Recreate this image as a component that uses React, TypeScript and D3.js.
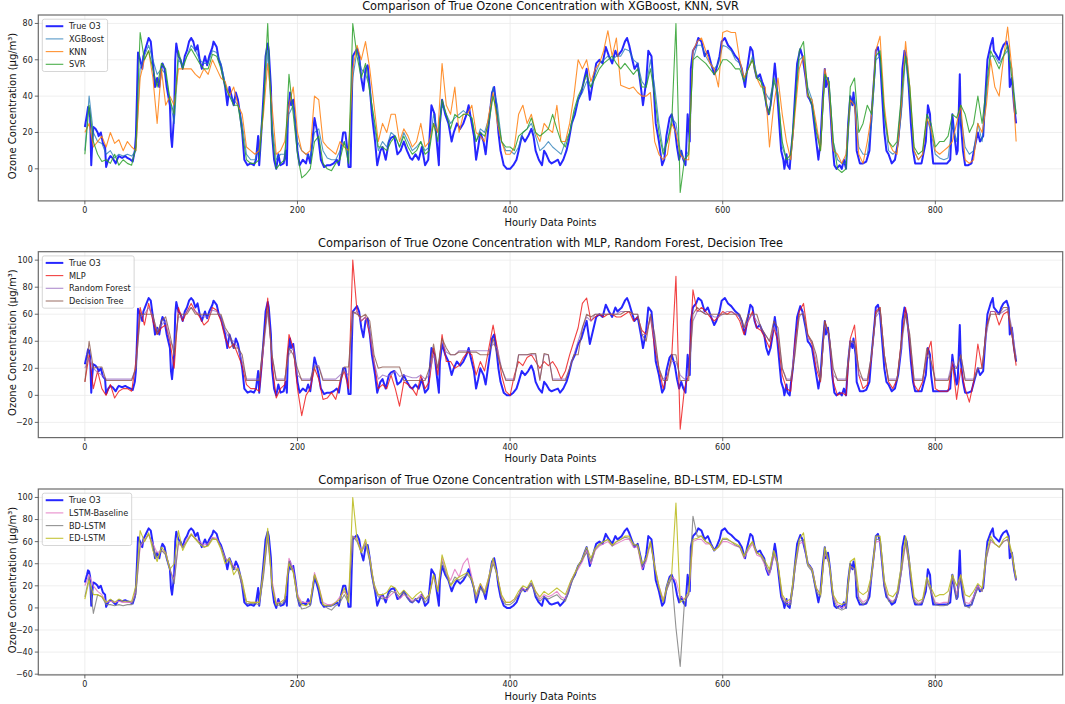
import React from "react";
import * as d3 from "d3";

// ---------- DATA ----------
// True O3 readings: [hour, value]
const TRUE_O3: [number, number][] = [
  [0,23],[2,30],[3,34],[4,33],[5,28],[6,2],[7,15],[8,23],[10,22],[12,20],[13,18],[15,20],[17,14],[19,12],[20,1],[22,5],[24,7],[26,6],[28,4],[29,3],
  [31,6],[32,7],[35,6],[38,7],[40,6],[43,5],[45,4],[47,10],[48,18],[49,40],[50,64],[52,60],[54,55],[55,62],[58,68],[60,72],[62,70],[64,58],[66,45],[68,50],
  [70,45],[72,55],[73,58],[75,55],[77,45],[80,35],[81,18],[82,12],[84,30],[85,60],[86,69],[88,62],[90,60],[92,55],[94,62],[96,65],[98,70],[100,72],[102,70],[104,65],
  [106,68],[108,60],[110,55],[113,62],[115,57],[117,62],[120,67],[121,70],[124,67],[126,60],[128,57],[129,54],[132,45],[134,35],[136,45],[138,40],[140,35],[142,42],[144,38],[146,30],
  [148,20],[150,5],[153,2],[156,3],[159,2],[161,5],[163,18],[164,2],[166,20],[168,40],[170,62],[172,69],[173,65],[175,45],[176,20],[178,5],[180,0],[182,8],[184,2],[187,3],
  [189,10],[190,2],[191,30],[193,42],[194,35],[196,38],[198,25],[200,10],[202,2],[205,5],[208,3],[210,8],[212,3],[214,15],[216,28],[218,22],[220,15],[222,5],[225,1],[228,2],
  [231,2],[234,3],[237,5],[239,2],[241,12],[243,20],[245,20],[247,10],[248,1],[250,1],[251,35],[252,62],[254,64],[256,66],[258,62],[260,50],[262,43],[264,55],[266,57],[268,45],
  [270,30],[273,15],[275,2],[278,10],[280,12],[283,5],[286,15],[288,17],[291,18],[294,8],[297,10],[300,15],[303,10],[306,6],[308,5],[311,8],[314,5],[317,12],[320,2],[323,5],
  [326,35],[329,30],[331,15],[333,2],[334,25],[336,38],[339,30],[342,25],[345,15],[347,20],[350,25],[353,22],[356,25],[359,30],[361,35],[363,28],[366,18],[368,5],[370,12],[372,20],
  [375,15],[377,8],[380,25],[383,42],[385,45],[387,35],[389,20],[391,10],[394,2],[397,0],[400,0],[403,2],[406,5],[408,10],[411,18],[414,15],[417,18],[420,22],[422,18],[424,10],
  [427,5],[430,2],[432,10],[434,8],[437,4],[439,3],[442,4],[445,5],[447,2],[450,5],[453,10],[455,15],[458,25],[461,30],[464,38],[467,42],[470,50],[472,55],[475,38],[478,48],
  [481,58],[484,60],[487,58],[490,67],[493,62],[496,58],[499,65],[501,62],[505,65],[508,70],[510,72],[512,68],[515,60],[517,55],[520,58],[523,45],[525,35],[528,48],[530,65],[533,62],
  [535,45],[537,25],[540,15],[543,2],[545,5],[547,18],[550,28],[552,30],[555,22],[557,12],[559,5],[561,10],[563,5],[565,2],[567,30],[569,15],[570,55],[572,65],[575,68],[577,72],
  [580,70],[583,62],[586,65],[589,58],[592,52],[594,55],[597,62],[599,70],[602,72],[605,68],[608,66],[612,62],[615,60],[618,55],[620,48],[621,45],[623,55],[626,67],[628,65],[630,55],
  [632,50],[635,52],[637,48],[639,45],[641,35],[643,30],[645,35],[647,45],[649,58],[650,52],[652,35],[654,18],[655,10],[657,5],[658,0],[660,8],[661,2],[663,0],[664,8],[666,20],
  [668,40],[670,58],[673,66],[675,62],[678,50],[680,40],[682,38],[684,35],[686,25],[688,15],[690,5],[692,15],[694,38],[696,55],[697,45],[699,50],[701,35],[703,15],[705,2],[707,0],
  [710,2],[712,0],[714,5],[716,0],[718,25],[720,40],[722,35],[723,42],[725,30],[726,10],[729,3],[732,3],[735,4],[738,10],[740,30],[743,55],[744,65],[746,67],[748,60],[750,40],
  [752,20],[754,10],[756,8],[759,3],[762,5],[765,15],[768,35],[769,55],[771,65],[773,60],[775,45],[777,25],[779,10],[781,3],[784,3],[787,3],[791,15],[793,35],[795,30],[796,15],
  [798,3],[802,3],[806,3],[811,3],[814,5],[816,30],[818,18],[820,8],[821,10],[823,52],[824,25],[826,10],[828,2],[831,2],[834,3],[837,12],[840,20],[842,15],[845,18],[847,40],
  [849,60],[852,68],[854,72],[855,65],[857,63],[860,60],[862,65],[864,68],[867,70],[869,65],[870,45],[872,50],[874,35],[876,25],
];

// Model predictions sampled every STEP hours (hour = index * STEP)
const STEP = 4;

const XGBOOST = [
  10,40,20,15,14,8,10,6,8,7,
  8,7,10,55,62,68,60,52,55,52,
  38,25,60,57,62,68,65,60,58,58,
  65,64,58,47,40,38,35,25,8,5,
  5,12,35,65,25,5,8,8,30,35,
  15,10,8,6,20,22,10,6,5,5,
  10,15,8,50,65,55,52,45,25,10,
  15,12,20,18,12,20,15,10,12,15,
  10,12,30,20,35,30,25,28,30,32,
  30,28,15,22,20,28,45,35,15,10,
  10,8,12,20,22,25,18,10,12,15,
  12,10,8,15,20,30,38,42,48,45,
  52,58,60,62,60,62,62,66,65,60,
  58,48,45,60,45,25,10,15,28,25,
  10,5,10,60,68,68,62,58,55,58,
  68,67,65,60,58,50,55,62,52,48,
  42,38,48,42,12,5,5,35,60,62,
  45,38,22,12,50,48,15,5,3,3,
  35,38,12,8,8,25,60,62,30,10,
  8,10,30,62,40,10,5,8,28,20,
  8,6,5,6,25,15,30,12,8,10,
  25,15,40,62,62,58,62,65,55,30,
];

const KNN = [
  20,25,12,15,18,12,20,14,16,10,
  15,12,10,50,60,65,50,25,55,35,
  40,35,55,55,55,55,52,50,55,52,
  60,55,50,48,40,45,35,30,12,10,
  8,10,30,58,35,8,10,15,35,45,
  20,10,8,10,40,38,15,12,10,8,
  15,12,10,55,68,60,70,55,35,15,
  25,20,30,30,15,22,18,12,15,25,
  12,15,25,20,58,35,30,45,20,30,
  30,35,20,18,15,30,42,25,15,8,
  8,12,30,35,25,30,20,15,25,22,
  20,35,15,15,25,40,60,55,60,48,
  55,58,65,76,62,72,46,45,44,45,
  42,40,40,42,15,8,5,8,25,20,
  8,5,5,65,70,72,65,58,55,45,
  75,76,75,75,60,50,55,60,50,45,
  45,12,35,50,30,15,5,30,55,62,
  40,38,25,10,55,45,10,8,3,8,
  38,35,8,3,15,30,65,73,35,15,
  10,8,35,70,45,10,5,8,28,22,
  10,8,10,12,15,25,35,5,3,5,
  25,20,35,60,45,40,60,78,55,15,
];

const SVR = [
  8,35,15,8,4,5,3,8,2,5,
  3,2,12,75,60,65,55,45,58,55,
  38,30,65,55,62,66,62,58,55,55,
  63,62,55,45,40,35,35,20,5,3,
  3,5,35,80,20,0,3,5,52,30,
  8,-5,-3,0,15,18,3,0,-1,3,
  5,15,3,80,62,50,58,42,28,12,
  12,10,15,18,12,18,12,8,10,15,
  8,10,25,15,38,30,22,30,28,30,
  30,28,15,20,18,25,40,30,15,12,
  12,10,18,20,22,28,20,18,20,22,
  30,22,15,12,20,32,40,45,52,45,
  50,55,58,60,62,58,55,58,55,52,
  55,45,45,55,40,20,8,15,25,80,
  -13,5,8,60,62,60,58,55,52,55,
  60,60,58,55,55,48,55,60,50,48,
  38,30,50,40,15,5,8,35,65,70,
  42,35,20,10,52,48,15,0,-2,0,
  45,50,20,25,35,30,62,65,30,15,
  12,15,40,62,45,12,8,10,30,25,
  12,15,15,18,30,28,35,30,20,25,
  40,25,45,65,60,55,62,68,50,30,
];

const MLP = [
  10,30,5,18,5,0,8,-2,3,5,
  5,3,25,65,52,68,55,45,50,52,
  40,20,65,55,62,68,62,58,52,55,
  65,63,55,42,35,38,30,22,8,5,
  5,3,35,72,25,-2,5,8,45,35,
  5,-15,0,5,20,12,-3,-2,2,-3,
  10,18,5,100,62,55,58,45,25,5,
  8,5,15,5,-8,10,8,5,0,15,
  5,10,35,15,45,25,25,20,22,28,
  32,30,15,25,18,35,52,35,15,3,
  0,15,25,22,28,30,25,20,25,22,
  25,20,12,18,30,40,50,68,72,55,
  58,60,58,60,60,58,58,60,62,55,
  58,48,45,58,35,20,5,15,28,88,
  -25,5,15,78,62,65,62,58,55,58,
  62,60,62,60,55,45,55,62,50,48,
  42,35,50,40,15,5,3,40,62,68,
  45,38,20,10,55,45,10,0,2,0,
  42,52,15,5,8,28,62,65,30,10,
  5,12,40,65,38,8,3,10,30,40,
  5,3,3,3,25,-3,20,5,-5,10,
  38,20,50,62,62,52,60,62,45,22,
];

const RANDOM_FOREST = [
  20,28,20,17,15,12,12,12,12,12,
  12,12,20,58,60,65,58,48,52,55,
  40,35,58,58,62,65,62,60,58,58,
  63,62,58,48,42,40,35,25,12,12,
  12,12,35,62,30,12,12,12,30,35,
  15,12,12,12,22,22,12,12,12,12,
  15,18,15,60,62,55,58,48,25,12,
  15,14,15,18,14,15,14,13,13,15,
  12,15,30,20,40,32,30,30,33,33,
  33,33,33,33,33,33,38,35,20,12,
  12,12,30,30,30,30,30,12,30,30,
  12,12,12,12,20,30,40,50,58,55,
  60,60,60,60,60,60,62,62,62,60,
  60,45,45,58,40,20,12,15,25,25,
  15,12,15,55,62,62,60,60,58,58,
  60,62,62,60,58,50,55,60,55,50,
  45,40,50,45,20,12,12,35,58,62,
  42,40,25,12,52,45,15,12,12,12,
  40,38,15,12,12,30,58,62,30,12,
  12,12,35,60,42,12,12,12,30,25,
  12,12,12,12,25,20,30,12,12,12,
  20,20,45,62,62,60,62,64,50,28,
];

const DECISION_TREE = [
  10,40,20,21,21,11,11,11,11,11,
  11,11,20,60,60,60,60,45,55,58,
  45,30,60,60,60,65,60,60,60,60,
  60,60,60,50,45,35,35,30,11,11,
  11,11,40,65,30,11,11,11,35,30,
  20,11,11,11,21,21,11,11,11,11,
  11,21,21,62,60,58,60,55,30,20,
  21,21,21,21,21,11,11,11,11,11,
  11,20,38,20,42,35,30,30,32,32,
  32,32,32,30,30,30,42,30,20,11,
  11,11,30,30,30,31,31,11,31,30,
  11,11,11,11,20,30,30,50,60,58,
  60,60,60,60,60,60,60,62,62,60,
  60,45,40,60,45,20,11,11,30,30,
  11,11,11,60,65,62,60,60,60,60,
  60,60,60,60,60,50,60,60,60,50,
  45,40,55,50,20,11,11,30,60,60,
  45,40,30,11,55,45,20,11,11,11,
  40,40,20,11,11,30,60,65,30,11,
  11,11,40,60,45,11,11,11,35,25,
  11,11,11,11,20,20,30,11,11,11,
  20,20,50,60,60,60,65,65,45,25,
];

const LSTM_BASELINE = [
  20,30,20,15,12,5,6,5,6,5,
  5,5,15,55,62,66,58,50,52,50,
  35,25,58,55,62,67,63,60,57,58,
  64,63,55,45,43,38,35,22,6,5,
  5,5,30,65,25,5,5,8,45,35,
  12,5,5,5,32,20,5,3,3,5,
  10,15,10,65,62,52,60,45,20,12,
  10,8,12,15,8,12,10,6,8,12,
  8,12,28,18,45,32,25,35,28,40,
  45,28,10,22,15,28,42,30,10,5,
  5,8,12,18,15,22,15,8,12,10,
  12,15,10,8,20,30,35,42,52,40,
  52,56,58,60,56,58,60,62,62,55,
  55,35,42,58,38,20,8,18,28,25,
  10,8,12,60,62,62,58,58,52,55,
  60,60,58,56,55,45,52,58,48,46,
  38,30,48,38,10,5,5,35,58,60,
  40,35,18,12,50,40,10,3,0,2,
  38,35,10,5,8,28,60,60,22,8,
  6,10,32,58,35,8,4,6,25,15,
  5,4,5,5,28,12,30,5,4,10,
  20,15,45,60,58,55,60,62,48,25,
];

const BD_LSTM = [
  10,28,-5,12,10,3,3,2,3,2,
  3,3,12,58,60,67,56,45,52,48,
  35,22,60,55,60,66,63,58,55,57,
  63,62,55,44,42,36,34,20,4,4,
  4,3,28,65,22,2,3,6,42,33,
  8,-1,0,2,30,18,3,0,-2,2,
  5,12,5,65,60,50,58,42,18,10,
  8,10,15,14,10,14,8,5,8,10,
  5,10,30,15,42,30,20,28,25,28,
  30,25,8,18,12,25,40,30,8,3,
  3,6,12,16,16,22,12,6,10,8,
  10,12,8,6,18,28,38,44,50,42,
  53,57,60,62,56,60,62,64,63,58,
  56,38,44,60,36,18,5,18,28,-18,
  -53,5,12,83,65,65,60,58,52,56,
  62,62,60,57,55,46,54,60,50,47,
  40,32,50,38,8,3,3,35,60,62,
  38,33,15,10,52,40,8,0,-2,0,
  38,35,8,3,6,28,62,62,20,6,
  5,10,33,60,35,6,3,5,25,14,
  3,2,2,3,30,8,28,2,0,8,
  18,15,45,62,58,55,60,62,48,25,
];

const ED_LSTM = [
  8,25,12,12,10,5,8,5,8,6,
  6,6,20,70,60,68,52,42,55,50,
  35,40,70,52,60,67,62,58,55,56,
  62,62,53,40,45,30,36,25,6,5,
  5,5,35,72,20,3,5,8,40,32,
  10,3,2,5,30,20,3,2,2,5,
  8,18,5,100,62,50,62,45,22,12,
  12,14,20,18,12,16,12,8,12,15,
  8,12,30,15,48,35,20,25,28,30,
  32,26,12,22,14,28,45,28,12,5,
  5,8,15,20,18,25,15,10,15,12,
  15,18,15,12,22,30,38,45,55,45,
  54,58,60,62,57,60,62,65,65,57,
  57,40,45,60,38,20,6,22,30,95,
  5,8,15,62,63,65,60,58,52,55,
  63,63,60,58,56,47,55,60,50,48,
  42,35,52,40,12,6,8,40,62,68,
  40,35,18,12,55,42,12,5,3,5,
  42,45,15,12,15,30,65,65,25,12,
  10,15,38,65,40,10,6,8,28,18,
  10,12,12,15,30,20,30,12,10,15,
  22,18,50,65,58,55,62,65,50,27,
];

const X_TICKS = [0, 200, 400, 600, 800];
const Y_TICKS_TOP = [0, 20, 40, 60, 80];
const Y_TICKS_MID = [-20, 0, 20, 40, 60, 80, 100];
const Y_TICKS_BOT = [-60, -40, -20, 0, 20, 40, 60, 80, 100];

const TITLES = [
  "Comparison of True Ozone Concentration with XGBoost, KNN, SVR",
  "Comparison of True Ozone Concentration with MLP, Random Forest, Decision Tree",
  "Comparison of True Ozone Concentration with LSTM-Baseline, BD-LSTM, ED-LSTM",
];

// ---------- LAYOUT / STYLE ----------
const W = 1065;
const H = 704;
const LEFT = 38.3;
const RIGHT = 1062.7;
const PANEL_TOPS = [15, 251.7, 489];
const PANEL_H = 185.9;
const FONT = "'DejaVu Sans', 'Liberation Sans', sans-serif";

type Series = { name: string; points: [number, number][]; color: string; width: number; opacity: number };

const stepped = (arr: number[]): [number, number][] => arr.map((v, i) => [i * STEP, v]);

const trueSeries: Series = { name: "True O3", points: TRUE_O3, color: "#0000ff", width: 2, opacity: 0.85 };

const PANELS: { title: string; yTicks: number[]; series: Series[] }[] = [
  {
    title: TITLES[0],
    yTicks: Y_TICKS_TOP,
    series: [
      trueSeries,
      { name: "XGBoost", points: stepped(XGBOOST), color: "#1f77b4", width: 1.1, opacity: 0.75 },
      { name: "KNN", points: stepped(KNN), color: "#ff7f0e", width: 1.1, opacity: 0.85 },
      { name: "SVR", points: stepped(SVR), color: "#2ca02c", width: 1.1, opacity: 0.85 },
    ],
  },
  {
    title: TITLES[1],
    yTicks: Y_TICKS_MID,
    series: [
      trueSeries,
      { name: "MLP", points: stepped(MLP), color: "#ee1111", width: 1.1, opacity: 0.8 },
      { name: "Random Forest", points: stepped(RANDOM_FOREST), color: "#9467bd", width: 1.1, opacity: 0.75 },
      { name: "Decision Tree", points: stepped(DECISION_TREE), color: "#8c564b", width: 1.1, opacity: 0.8 },
    ],
  },
  {
    title: TITLES[2],
    yTicks: Y_TICKS_BOT,
    series: [
      trueSeries,
      { name: "LSTM-Baseline", points: stepped(LSTM_BASELINE), color: "#e377c2", width: 1.1, opacity: 0.85 },
      { name: "BD-LSTM", points: stepped(BD_LSTM), color: "#7f7f7f", width: 1.1, opacity: 0.85 },
      { name: "ED-LSTM", points: stepped(ED_LSTM), color: "#bcbd22", width: 1.1, opacity: 0.9 },
    ],
  },
];

const lastHour = TRUE_O3[TRUE_O3.length - 1][0];
const x = d3.scaleLinear().domain([-0.05 * lastHour, 1.05 * lastHour]).range([LEFT, RIGHT]);

let measureCtx: CanvasRenderingContext2D | null = null;
function textWidth(t: string, size: number) {
  if (!measureCtx) measureCtx = document.createElement("canvas").getContext("2d");
  if (!measureCtx) return t.length * size * 0.6;
  measureCtx.font = `${size}px 'DejaVu Sans'`;
  return measureCtx.measureText(t).width;
}

function Panel({ idx }: { idx: number }) {
  const p = PANELS[idx];
  const top = PANEL_TOPS[idx];
  const bottom = top + PANEL_H;
  const all = p.series.flatMap((s) => s.points.map((d) => d[1]));
  const [mn, mx] = d3.extent(all) as [number, number];
  const pad = (mx - mn) * 0.05;
  const y = d3.scaleLinear().domain([mn - pad, mx + pad]).range([bottom, top]);
  const line = d3
    .line<[number, number]>()
    .x((d) => x(d[0]))
    .y((d) => y(d[1]));
  const clipId = `clip${idx}`;

  const legFont = 8.2;
  const legW = 26.7 + d3.max(p.series, (s) => textWidth(s.name, legFont))! + 3.5;
  const legX = LEFT + 4;
  const legY = top + 4.2;
  const rowH = 12.7;
  const legH = 7 + rowH * (p.series.length - 1) + 7.2;

  return (
    <g>
      <defs>
        <clipPath id={clipId}>
          <rect x={LEFT} y={top} width={RIGHT - LEFT} height={PANEL_H} />
        </clipPath>
      </defs>
      <rect x={LEFT} y={top} width={RIGHT - LEFT} height={PANEL_H} fill="#fff" />
      {/* grid */}
      {X_TICKS.map((t) => (
        <line key={"gx" + t} x1={x(t)} x2={x(t)} y1={top} y2={bottom} stroke="#ebebeb" strokeWidth={0.8} />
      ))}
      {p.yTicks.map((t) => (
        <line key={"gy" + t} x1={LEFT} x2={RIGHT} y1={y(t)} y2={y(t)} stroke="#ebebeb" strokeWidth={0.8} />
      ))}
      {/* series */}
      <g clipPath={`url(#${clipId})`}>
        {p.series.map((s) => (
          <path
            key={s.name}
            d={line(s.points) || ""}
            fill="none"
            stroke={s.color}
            strokeWidth={s.width}
            strokeOpacity={s.opacity}
            strokeLinejoin="round"
          />
        ))}
      </g>
      {/* frame */}
      <rect x={LEFT} y={top} width={RIGHT - LEFT} height={PANEL_H} fill="none" stroke="#6a6a6a" strokeWidth={1.2} />
      {/* x ticks */}
      {X_TICKS.map((t) => (
        <g key={"tx" + t}>
          <line x1={x(t)} x2={x(t)} y1={bottom} y2={bottom + 3.5} stroke="#444" strokeWidth={0.8} />
          <text x={x(t)} y={bottom + 12.3} textAnchor="middle" fontSize={8} fontFamily={FONT} fill="#222">
            {t}
          </text>
        </g>
      ))}
      {/* y ticks */}
      {p.yTicks.map((t) => (
        <g key={"ty" + t}>
          <line x1={LEFT - 3.5} x2={LEFT} y1={y(t)} y2={y(t)} stroke="#444" strokeWidth={0.8} />
          <text x={LEFT - 5.5} y={y(t) + 2.9} textAnchor="end" fontSize={8} fontFamily={FONT} fill="#222">
            {t < 0 ? "\u2212" + Math.abs(t) : t}
          </text>
        </g>
      ))}
      {/* labels */}
      <text x={(LEFT + RIGHT) / 2} y={top - 4.6} textAnchor="middle" fontSize={11.4} fontFamily={FONT} fill="#111">
        {p.title}
      </text>
      <text x={(LEFT + RIGHT) / 2} y={bottom + 24.8} textAnchor="middle" fontSize={9.9} fontFamily={FONT} fill="#111">
        Hourly Data Points
      </text>
      <text
        transform={`translate(${16.3},${(top + bottom) / 2 - 2}) rotate(-90)`}
        textAnchor="middle"
        fontSize={10}
        fontFamily={FONT}
        fill="#111"
      >
        Ozone Concentration (μg/m³)
      </text>
      {/* legend */}
      <rect x={legX} y={legY} width={legW} height={legH} rx={2} fill="#fff" fillOpacity={0.8} stroke="#cccccc" strokeWidth={0.8} />
      {p.series.map((s, i) => {
        const ry = legY + 7 + i * rowH;
        return (
          <g key={"lg" + s.name}>
            <line x1={legX + 3.4} x2={legX + 21} y1={ry} y2={ry} stroke={s.color} strokeWidth={s.width} strokeOpacity={s.opacity} />
            <text x={legX + 26.7} y={ry + 2.9} fontSize={legFont} fontFamily={FONT} fill="#222">
              {s.name}
            </text>
          </g>
        );
      })}
    </g>
  );
}

export default function App() {
  return (
    <svg
      width={W}
      height={H}
      viewBox={`0 0 ${W} ${H}`}
      style={{ position: "absolute", left: 0, top: 0, background: "#fff" }}
    >
      <rect x={0} y={0} width={W} height={H} fill="#fff" />
      {PANELS.map((_, i) => (
        <Panel key={i} idx={i} />
      ))}
    </svg>
  );
}
